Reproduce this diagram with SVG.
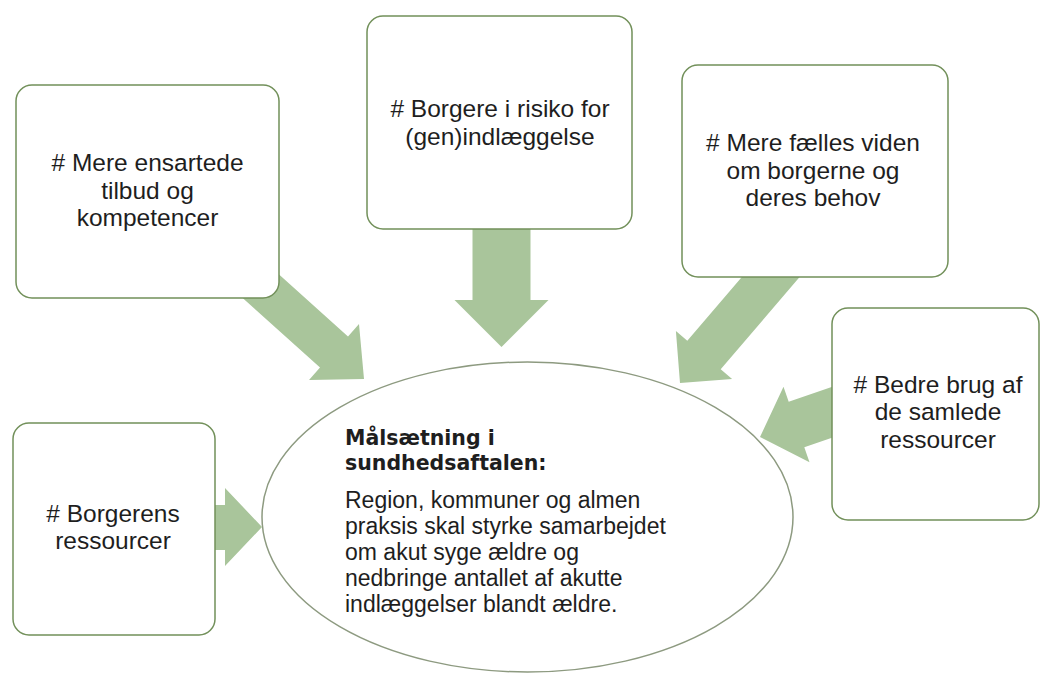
<svg xmlns="http://www.w3.org/2000/svg" width="1042" height="677" viewBox="0 0 1042 677">
  <style>
    .box { fill: #ffffff; stroke: #72905a; stroke-width: 1.5; }
    .ell { fill: #ffffff; stroke: #8d9a80; stroke-width: 1.5; }
    .arrow { fill: #a9c59b; stroke: none; }
    .t { font-family: "Liberation Sans", Arial, sans-serif; font-size: 24.5px; fill: #1e1e1e; text-anchor: middle; }
    .h { font-family: "DejaVu Sans", Verdana, sans-serif; font-weight: bold; font-size: 20.5px; fill: #1e1e1e; }
    .b { font-family: "Liberation Sans", Arial, sans-serif; font-size: 23px; fill: #1e1e1e; }
  </style>
  <rect width="1042" height="677" fill="#ffffff"/>

  <g id="goal">
    <ellipse class="ell" cx="527.5" cy="517" rx="265.5" ry="155"/>
    <text class="h"><tspan x="345" y="445">Målsætning i</tspan><tspan x="345" y="470">sundhedsaftalen:</tspan></text>
    <text class="b">
      <tspan x="345" y="508">Region, kommuner og almen</tspan>
      <tspan x="345" y="534">praksis skal styrke samarbejdet</tspan>
      <tspan x="345" y="560">om akut syge ældre og</tspan>
      <tspan x="345" y="586">nedbringe antallet af akutte</tspan>
      <tspan x="345" y="612">indlæggelser blandt ældre.</tspan>
    </text>
  </g>

  <g id="connectors">
    <polygon class="arrow" points="223.4,280.8 251.4,249.6 348,336.4 359,324 364,379 309,380 320,367.6"/>
    <polygon class="arrow" points="472.5,220 530.5,220 530.5,300 548.5,300 501.5,347 454.5,300 472.5,300"/>
    <polygon class="arrow" points="805.2,270.6 771.8,242 687.3,340.7 675.9,331 680,383 732.1,379.1 720.7,369.3"/>
    <polygon class="arrow" points="889.4,418 873.8,372.6 788.7,401.8 783.5,386.7 760,437 809.5,462.3 804.3,447.2"/>
    <polygon class="arrow" points="200,505 225,505 225,488 262,527 225,566 225,550 200,550"/>
  </g>

  <g id="box-ensartede">
    <rect class="box" x="16" y="85" width="263" height="213" rx="16"/>
    <text class="t"><tspan x="147.5" y="171"># Mere ensartede</tspan><tspan x="147.5" y="198.5">tilbud og</tspan><tspan x="147.5" y="226">kompetencer</tspan></text>
  </g>

  <g id="box-risiko">
    <rect class="box" x="367" y="16" width="265" height="213" rx="16"/>
    <text class="t"><tspan x="500" y="117"># Borgere i risiko for</tspan><tspan x="500" y="144.5">(gen)indlæggelse</tspan></text>
  </g>

  <g id="box-viden">
    <rect class="box" x="682" y="65" width="266" height="212" rx="16"/>
    <text class="t"><tspan x="813" y="151"># Mere fælles viden</tspan><tspan x="813" y="178.5">om borgerne og</tspan><tspan x="813" y="206">deres behov</tspan></text>
  </g>

  <g id="box-ressourcer">
    <rect class="box" x="832" y="308" width="207" height="212" rx="16"/>
    <text class="t"><tspan x="938" y="392.5"># Bedre brug af</tspan><tspan x="938" y="420">de samlede</tspan><tspan x="938" y="447.5">ressourcer</tspan></text>
  </g>

  <g id="box-borgerens">
    <rect class="box" x="13" y="423" width="202" height="212" rx="16"/>
    <text class="t"><tspan x="113" y="521.5"># Borgerens</tspan><tspan x="113" y="549">ressourcer</tspan></text>
  </g>
</svg>
